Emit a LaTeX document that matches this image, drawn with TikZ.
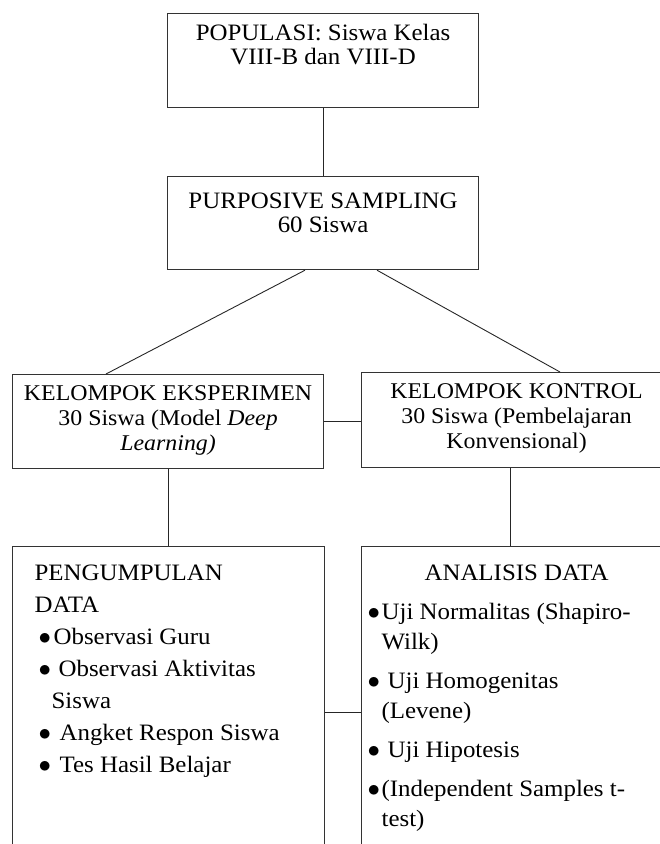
\documentclass[tikz,border=0pt]{standalone}
\usepackage{fontspec}
\setmainfont{Liberation Serif}[FakeStretch=1.06]
\usetikzlibrary{calc}

% fixed-size text frame: height, width, top padding, content
\newcommand{\boxtext}[4]{\parbox[t][#1][t]{#2}{\vspace*{#3}#4}}
\newcommand{\itemdot}[1]{\makebox[#1][l]{$\bullet$}}

\begin{document}
\begin{tikzpicture}[
  x=1pt, y=-1pt,
  font=\fontsize{23.5}{24}\selectfont,
  box/.style={draw=black!80, line width=1.2pt, inner sep=0pt, anchor=north west},
  link/.style={draw=black!85, line width=0.9pt},
]
\useasboundingbox (0,0) rectangle (660,844);
\clip (0,0) rectangle (660,844);

\node[box] (pop) at (167,13) {\boxtext{94pt}{311pt}{11pt}{\centering POPULASI: Siswa Kelas\\VIII-B dan VIII-D}};
\node[box] (purp) at (167,176) {\boxtext{93pt}{311pt}{16pt}{\centering PURPOSIVE SAMPLING\\60 Siswa}};

\node[box] (eks) at (12,374) {\boxtext{94pt}{311pt}{11pt}{\fontsize{22.5}{25}\selectfont\centering KELOMPOK EKSPERIMEN\\30 Siswa (Model \textit{Deep}\\\textit{Learning)}}};
\node[box] (kon) at (361,372) {\boxtext{95pt}{310pt}{11pt}{\fontsize{22.5}{25}\selectfont\centering KELOMPOK KONTROL\\30 Siswa (Pembelajaran\\Konvensional)}};

\node[box] (peng) at (12,546) {\boxtext{330pt}{312pt}{18pt}{\fontsize{23.5}{32}\selectfont\raggedright\leftskip=22pt
  PENGUMPULAN\\DATA\\
  \hspace*{4pt}\itemdot{15pt}Observasi Guru\\
  \hspace*{4pt}\itemdot{20pt}Observasi Aktivitas\\
  \hspace*{17pt}Siswa\\
  \hspace*{4pt}\itemdot{21pt}Angket Respon Siswa\\
  \hspace*{4pt}\itemdot{21pt}Tes Hasil Belajar}};
\node[box] (anal) at (361,546) {\boxtext{330pt}{310pt}{18pt}{\fontsize{23.5}{30}\selectfont
  {\centering ANALISIS DATA\par}
  \raggedright\leftskip=6pt\parskip=9pt
  \itemdot{14pt}Uji Normalitas (Shapiro-\\\hspace*{14pt}Wilk)\par
  \itemdot{20pt}Uji Homogenitas\\\hspace*{14pt}(Levene)\par
  \itemdot{20pt}Uji Hipotesis\par
  \itemdot{14pt}(Independent Samples t-\\\hspace*{14pt}test)}};

\draw[link] (pop) -- (purp);
\draw[link] ($(purp.south west)+(138,0)$) -- ($(eks.north west)+(94,0)$);
\draw[link] ($(purp.south west)+(210,0)$) -- ($(kon.north west)+(199,0)$);
\draw[link] (eks.east) -- (eks.east -| kon.west);
\draw[link] (eks.south) -- (eks.south |- peng.north);
\draw[link] ($(kon.south west)+(149,0)$) -- ($(anal.north west)+(149,0)$);
\draw[link] ($(peng.north east)+(0,166)$) -- ($(anal.north west)+(0,166)$);
\end{tikzpicture}
\end{document}
